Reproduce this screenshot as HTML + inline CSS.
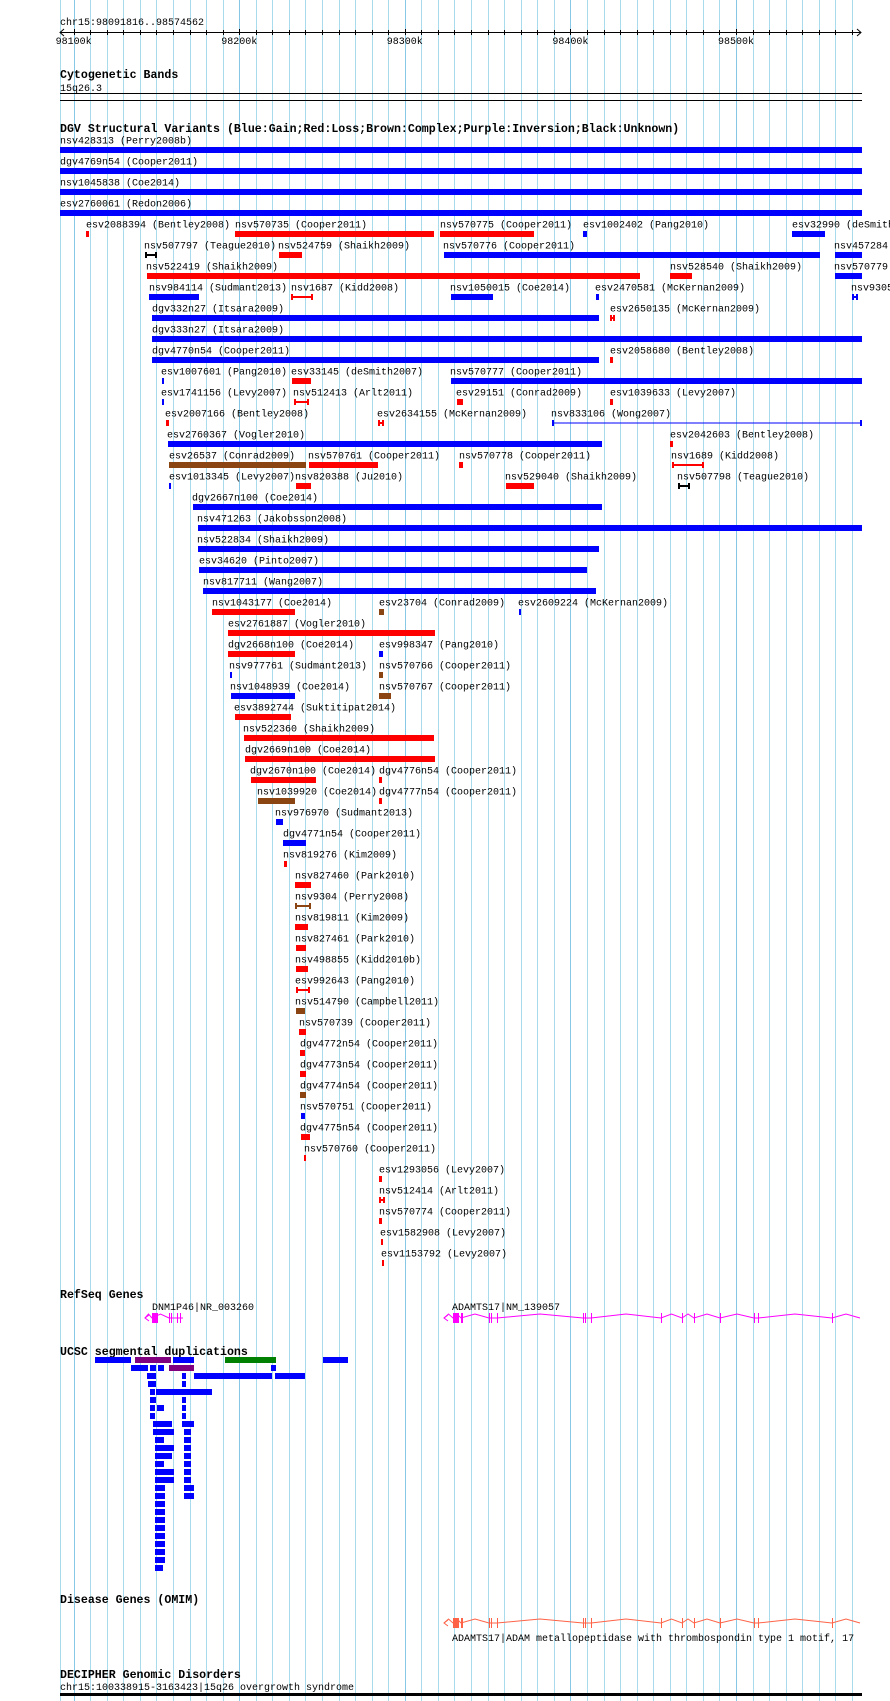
<!DOCTYPE html>
<html><head><meta charset="utf-8"><style>
html,body{margin:0;padding:0;background:#fff;}
svg{display:block;}
text{font-family:"Liberation Mono",monospace;font-size:10px;fill:#000;}
text.b{font-weight:bold;font-size:11.6px;}
</style></head><body>
<svg id="s" width="890" height="1701" xmlns="http://www.w3.org/2000/svg"></svg>
<script>
const S=document.getElementById('s');const NS='http://www.w3.org/2000/svg';
function el(t,a,txt){const e=document.createElementNS(NS,t);for(const k in a)e.setAttribute(k,a[k]);if(txt!==undefined)e.textContent=txt;S.appendChild(e);return e;}
function R(x1,y,x2,h,c){el('rect',{x:x1,y:y,width:Math.max(1,x2-x1),height:h,fill:c});}
function L(x1,y1,x2,y2,c,w){el('line',{x1:x1,y1:y1,x2:x2,y2:y2,stroke:c,'stroke-width':w||1});}
function T(x,y,s,cls,fill){const a={x:x,y:y};if(cls)a['class']=cls;if(fill)a.fill=fill;el('text',a,s);}
// grid
L(60.5,0,60.5,1701,'#a8dcec');
for(let k=0;k<48;k++){const x=Math.round(73.6+k*16.56)+0.5;if(x>862)break;L(x,0,x,1701,(k%10==0)?'#86c8e6':'#a8dcec');}
// ruler
T(60,25,'chr15:98091816..98574562');
L(60,32.5,861,32.5,'#000');
el('polyline',{points:'64,29 60,32.5 64,36',fill:'none',stroke:'#000'});
el('polyline',{points:'857,29 861,32.5 857,36',fill:'none',stroke:'#000'});
for(let k=0;k<48;k++){const x=Math.round(73.6+k*16.56)+0.5;if(x>858)break;L(x,k%10==0?29:30,x,35,'#000');}
['98100k','98200k','98300k','98400k','98500k'].forEach((s,i)=>{T(73.6+i*165.6-18,44,s);});
// cytoband
T(60,78,'Cytogenetic Bands','b');T(60,91,'15q26.3');
L(60,93.5,862,93.5,'#000');L(60,100.5,862,100.5,'#000');
T(60,132,'DGV Structural Variants (Blue:Gain;Red:Loss;Brown:Complex;Purple:Inversion;Black:Unknown)','b');
const B='#0000ff',RD='#ff0000',BR='#8b4513',K='#000';
const D=[
[0,60,'nsv428313 (Perry2008b)',60,862,B],[1,60,'dgv4769n54 (Cooper2011)',60,862,B],[2,60,'nsv1045838 (Coe2014)',60,862,B],[3,60,'esv2760061 (Redon2006)',60,862,B],
[4,86,'esv2088394 (Bentley2008)',86,89,RD],[4,235,'nsv570735 (Cooper2011)',235,434,RD],[4,440,'nsv570775 (Cooper2011)',440,534,RD],[4,583,'esv1002402 (Pang2010)',583,587,B],[4,792,'esv32990 (deSmith2007)',792,825,B],
[5,144,'nsv507797 (Teague2010)',145,157,K,1],[5,278,'nsv524759 (Shaikh2009)',279,302,RD],[5,443,'nsv570776 (Cooper2011)',444,820,B],[5,834,'nsv457284 (Kidd2010b)',835,862,B],
[6,146,'nsv522419 (Shaikh2009)',147,640,RD],[6,670,'nsv528540 (Shaikh2009)',670,692,RD],[6,834,'nsv570779 (Cooper2011)',835,862,B],
[7,149,'nsv984114 (Sudmant2013)',149,199,B],[7,291,'nsv1687 (Kidd2008)',291,313,RD,1],[7,450,'nsv1050015 (Coe2014)',451,493,B],[7,595,'esv2470581 (McKernan2009)',596,599,B],[7,851,'nsv9305 (Perry2008)',852,858,B,1],
[8,152,'dgv332n27 (Itsara2009)',152,599,B],[8,610,'esv2650135 (McKernan2009)',610,615,RD,1],
[9,152,'dgv333n27 (Itsara2009)',152,862,B],
[10,152,'dgv4770n54 (Cooper2011)',152,599,B],[10,610,'esv2058680 (Bentley2008)',610,613,RD],
[11,161,'esv1007601 (Pang2010)',162,164,B],[11,291,'esv33145 (deSmith2007)',292,311,RD],[11,450,'nsv570777 (Cooper2011)',451,862,B],
[12,161,'esv1741156 (Levy2007)',162,164,B],[12,293,'nsv512413 (Arlt2011)',294,309,RD,1],[12,456,'esv29151 (Conrad2009)',457,463,RD],[12,610,'esv1039633 (Levy2007)',610,613,RD],
[13,165,'esv2007166 (Bentley2008)',166,169,RD],[13,377,'esv2634155 (McKernan2009)',378,384,RD,1],[13,551,'nsv833106 (Wong2007)',552,862,B,2],
[14,167,'esv2760367 (Vogler2010)',168,602,B],[14,670,'esv2042603 (Bentley2008)',670,673,RD],
[15,169,'esv26537 (Conrad2009)',169,306,BR],[15,308,'nsv570761 (Cooper2011)',309,378,RD],[15,459,'nsv570778 (Cooper2011)',459,463,RD],[15,671,'nsv1689 (Kidd2008)',672,704,RD,1],
[16,169,'esv1013345 (Levy2007)',169,171,B],[16,295,'nsv820388 (Ju2010)',296,311,RD],[16,505,'nsv529040 (Shaikh2009)',506,534,RD],[16,677,'nsv507798 (Teague2010)',678,690,K,1],
[17,192,'dgv2667n100 (Coe2014)',193,602,B],[18,197,'nsv471263 (Jakobsson2008)',198,862,B],[19,197,'nsv522834 (Shaikh2009)',198,599,B],[20,199,'esv34620 (Pinto2007)',199,587,B],[21,203,'nsv817711 (Wang2007)',203,596,B],
[22,212,'nsv1043177 (Coe2014)',212,295,RD],[22,379,'esv23704 (Conrad2009)',379,384,BR],[22,518,'esv2609224 (McKernan2009)',519,521,B],
[23,228,'esv2761887 (Vogler2010)',228,435,RD],
[24,228,'dgv2668n100 (Coe2014)',228,295,RD],[24,379,'esv998347 (Pang2010)',379,383,B],
[25,229,'nsv977761 (Sudmant2013)',230,232,B],[25,379,'nsv570766 (Cooper2011)',379,383,BR],
[26,230,'nsv1048939 (Coe2014)',231,295,B],[26,379,'nsv570767 (Cooper2011)',379,391,BR],
[27,234,'esv3892744 (Suktitipat2014)',235,291,RD],[28,243,'nsv522360 (Shaikh2009)',244,434,RD],[29,245,'dgv2669n100 (Coe2014)',245,435,RD],
[30,250,'dgv2670n100 (Coe2014)',251,316,RD],[30,379,'dgv4776n54 (Cooper2011)',379,382,RD],
[31,257,'nsv1039920 (Coe2014)',258,295,BR],[31,379,'dgv4777n54 (Cooper2011)',379,382,RD],
[32,275,'nsv976970 (Sudmant2013)',276,283,B],[33,283,'dgv4771n54 (Cooper2011)',283,306,B],[34,283,'nsv819276 (Kim2009)',284,287,RD],
[35,295,'nsv827460 (Park2010)',295,311,RD],[36,295,'nsv9304 (Perry2008)',295,311,BR,1],[37,295,'nsv819811 (Kim2009)',295,308,RD],
[38,295,'nsv827461 (Park2010)',296,306,RD],[39,295,'nsv498855 (Kidd2010b)',296,308,RD],[40,295,'esv992643 (Pang2010)',296,310,RD,1],
[41,295,'nsv514790 (Campbell2011)',296,305,BR],[42,299,'nsv570739 (Cooper2011)',299,306,RD],[43,300,'dgv4772n54 (Cooper2011)',300,305,RD],
[44,300,'dgv4773n54 (Cooper2011)',300,306,RD],[45,300,'dgv4774n54 (Cooper2011)',300,306,BR],[46,300,'nsv570751 (Cooper2011)',301,305,B],
[47,300,'dgv4775n54 (Cooper2011)',301,310,RD],[48,304,'nsv570760 (Cooper2011)',304,306,RD],
[49,379,'esv1293056 (Levy2007)',379,382,RD],[50,379,'nsv512414 (Arlt2011)',379,385,RD,1],[51,379,'nsv570774 (Cooper2011)',379,382,RD],
[52,380,'esv1582908 (Levy2007)',381,383,RD],[53,381,'esv1153792 (Levy2007)',382,384,RD]];
D.forEach(d=>{const [r,lx,s,x1,x2,c,h]=d;const cy=140+21*r;T(lx,cy+3.5,s);const by=cy+7;
 if(h){L(x1,by+3,x2,by+3,c,h==2?1:2);L(x1+1,by,x1+1,by+6,c,2);L(x2-1,by,x2-1,by+6,c,2);}
 else R(x1,by,x2,6,c);});
// genes
function gene(y,x0,x1,ex,col){const pts=[];const xs=[x0].concat(ex.map(e=>e[0]),[x1]);
 el('polyline',{points:(x0+4)+','+(y-3)+' '+x0+','+y+' '+(x0+4)+','+(y+3),fill:'none',stroke:col});
 let p=x0+' '+y;for(let i=0;i<xs.length-1;i++){const a=xs[i],b=xs[i+1];if(b-a>6){p+=' '+a+','+y+' '+((a+b)/2)+','+(y-4)+' '+b+','+y;}else p+=' '+b+','+y;}
 el('polyline',{points:p.replace(/^(\S+) (\S+)/,'$1,$2'),fill:'none',stroke:col});
 ex.forEach(e=>R(e[0],y-5,e[1],10,col));}
T(60,1298,'RefSeq Genes','b');
T(152,1310,'DNM1P46|NR_003260');T(452,1310,'ADAMTS17|NM_139057');
gene(1318,145,183,[[152,158],[169,170],[171,172],[177,178],[180,181]],'#ff00ff');
const AX=[[453,459],[461,463],[489,490],[491,492],[497,498],[583,584],[585,586],[591,592],[661,662],[682,683],[694,695],[720,721],[754,755],[758,759],[832,833]];
gene(1318,444,860,AX,'#ff00ff');
// seg dups
T(60,1355,'UCSC segmental duplications','b');
const P='#800080',G='#008000';
const SD=[[[95,131,B],[135,171,P],[173,194,B],[225,276,G],[323,348,B]],
[[131,148,B],[150,156,B],[158,164,B],[169,194,P],[271,276,B]],
[[147,156,B],[182,186,B],[194,272,B],[275,305,B]],
[[148,156,B],[182,186,B]],[[150,155,B],[156,212,B]],[[150,156,B],[182,186,B]],
[[150,155,B],[157,164,B],[182,186,B]],[[150,155,B],[182,186,B]],
[[153,172,B],[182,194,B]],[[153,174,B],[184,191,B]],[[155,164,B],[184,191,B]],[[155,174,B],[184,191,B]],
[[155,172,B],[184,191,B]],[[155,164,B],[184,191,B]],[[155,174,B],[184,191,B]],[[155,174,B],[184,191,B]],
[[155,165,B],[184,194,B]],[[155,165,B],[184,194,B]]];
for(let k=18;k<26;k++)SD.push([[155,165,B]]);SD.push([[155,163,B]]);
SD.forEach((row,k)=>{const y=1357+8*k;row.forEach(b=>R(b[0],y,b[1],6,b[2]));});
// OMIM
T(60,1603,'Disease Genes (OMIM)','b');
gene(1623,444,860,AX,'#ff6347');
T(452,1641,'ADAMTS17|ADAM metallopeptidase with thrombospondin type 1 motif, 17',null,'#00008b');
// DECIPHER
T(60,1678,'DECIPHER Genomic Disorders','b');
T(60,1690,'chr15:100338915-3163423|15q26 overgrowth syndrome');
R(60,1693,862,3,'#000');
</script>
</body></html>
